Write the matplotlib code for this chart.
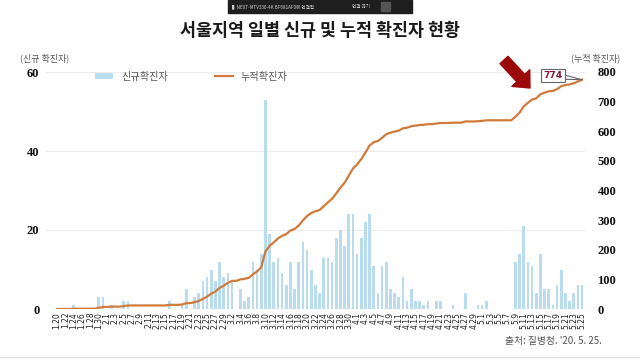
import numpy as np
import pandas as pd
import matplotlib
matplotlib.use("Agg")
import matplotlib.pyplot as plt
from matplotlib.patches import Patch, Rectangle
from matplotlib.lines import Line2D

plt.rcParams['font.family'] = ['Noto Sans CJK KR', 'DejaVu Sans']

# 날짜 (2020.1.20 ~ 5.25)
dates = pd.date_range("2020-01-20", "2020-05-25", freq="D")
date_labels = [f"{d.month}.{d.day}" for d in dates]

# 일별 신규 확진자
new_jan = [0, 0, 0, 0, 1, 0, 0, 0, 0, 0, 3, 3]
new_feb = [0, 1, 0, 0, 2, 2, 0, 0, 0, 0, 0, 0, 0, 0, 0,
           2, 0, 0, 1, 5, 0, 3, 4, 7, 8, 10, 7, 12, 8]
new_mar = [9, 7, 0, 5, 2, 3, 12, 10, 14, 53,
           19, 12, 13, 9, 6, 12, 5, 12, 17, 15,
           10, 6, 4, 13, 13, 12, 18, 20, 16, 24, 24]
new_apr = [14, 18, 22, 24, 11, 4, 11, 12, 5, 4,
           3, 8, 2, 5, 2, 2, 1, 2, 0, 2,
           2, 0, 0, 1, 0, 0, 4, 0, 0, 1]
new_may = [1, 2, 0, 0, 0, 0, 0, 0,
           12, 14, 21, 12, 11, 4, 14, 5, 5, 1, 6, 10, 4, 2, 4, 6, 6]

new_cases = np.array(new_jan + new_feb + new_mar + new_apr + new_may)
cum_cases = np.cumsum(new_cases)

left_ticks = [0, 20, 40, 60]
right_ticks = [0, 100, 200, 300, 400, 500, 600, 700, 800]

bar_color = '#b9dcef'
line_color = '#d27a3a'

fig = plt.figure(figsize=(6.4, 3.6), dpi=100)
fig.patch.set_facecolor('white')

ax = fig.add_axes([45/640, 1 - 309/360, 540/640, (309 - 72)/360])
x = np.arange(len(new_cases))
ax.bar(x, new_cases, width=0.62, color=bar_color, zorder=2)
ax.set_ylim(0, 60)
ax.set_xlim(-2.9, len(new_cases) - 0.3)
ax.set_yticks(left_ticks)
ax.set_yticklabels([str(t) for t in left_ticks], family='Liberation Serif',
                   fontweight='bold', fontsize=9, color='#111111')
ax.grid(axis='y', color='#ececec', linewidth=0.8, zorder=0)
ax.set_xticks(x[::2])
ax.set_xticklabels(date_labels[::2], rotation=90, fontsize=5.5, color='#222222',
                   family='DejaVu Sans')
ax.tick_params(length=0, pad=2)
ax.tick_params(axis='y', pad=4)
for s in ax.spines.values():
    s.set_visible(False)

ax2 = ax.twinx()
ax2.plot(x, cum_cases, color=line_color, linewidth=1.6, zorder=3)
ax2.set_ylim(0, 800)
ax2.set_yticks(right_ticks)
ax2.set_yticklabels([str(t) for t in right_ticks], family='Liberation Serif',
                    fontweight='bold', fontsize=9, color='#111111')
ax2.tick_params(length=0, pad=9)
for s in ax2.spines.values():
    s.set_visible(False)

# 774 말풍선
ax2.annotate(str(cum_cases[-1]), xy=(x[-1], cum_cases[-1]), xytext=(-21, 3),
             textcoords='offset points', ha='center', va='center',
             fontsize=6.5, fontweight='bold', color='#8c1538',
             family='DejaVu Sans',
             bbox=dict(boxstyle='square,pad=0.25', fc='white', ec='#666666', lw=0.8),
             arrowprops=dict(arrowstyle='wedge,tail_width=0.45', fc='white',
                             ec='#666666', lw=0.8, shrinkA=0, shrinkB=0),
             zorder=5)

# 빨간 화살표
ax2.annotate('', xy=(530, 360 - 88), xycoords='figure pixels',
             xytext=(504, 360 - 60), textcoords='figure pixels',
             arrowprops=dict(arrowstyle='simple,head_length=0.75,head_width=1.35,tail_width=0.6',
                             fc='#9b0a0a', ec='#9b0a0a', shrinkA=0, shrinkB=0,
                             mutation_scale=13),
             annotation_clip=False)

# 범례
handles = [Patch(facecolor=bar_color, edgecolor='none'),
           Line2D([0], [0], color=line_color, linewidth=1.6)]
ax.legend(handles, ['신규확진자', '누적확진자'], ncol=2, frameon=False,
          loc='upper left', bbox_to_anchor=(0.075, 1.04), fontsize=7.3,
          handlelength=1.8, handleheight=0.6, columnspacing=4.6, labelcolor='#555555')

# 제목 및 축 제목
fig.text(0.5, 1 - 31/360, '서울지역 일별 신규 및 누적 확진자 현황', ha='center', va='center',
         fontsize=12.5, fontweight='bold', color='#1a1a1a')
fig.text(20/640, 1 - 58/360, '(신규 확진자)', ha='left', va='center', fontsize=6.5,
         color='#555555')
fig.text(620/640, 1 - 58/360, '(누적 확진자)', ha='right', va='center', fontsize=6.5,
         color='#555555')
fig.text(602/640, 1 - 341/360, "출처: 질병청. '20. 5. 25.", ha='right', va='center',
         fontsize=7, color='#555555')

# 화면 상단 연결 표시줄
fig.patches.append(Rectangle((228/640, 1 - 13/360), 184/640, 13/360,
                             transform=fig.transFigure, color='#1e1e1e', zorder=10))
fig.text(232/640, 1 - 6.5/360, '▌NEXT-MTV330-4K BF681AF0에 연결됨', ha='left', va='center',
         fontsize=3.3, color='#d0d0d0', zorder=11)
fig.text(352/640, 1 - 6.5/360, '연결 끊기', ha='left', va='center',
         fontsize=3.3, color='#d0d0d0', zorder=11)
fig.patches.append(Rectangle((381/640, 1 - 11/360), 9/640, 9/360,
                             transform=fig.transFigure, color='#555555', zorder=11))

# 하단 회색 선
fig.add_artist(Line2D([0, 1], [1 - 357/360, 1 - 357/360], transform=fig.transFigure,
                      color='#e0e0e0', linewidth=1.0))

fig.savefig('out.png', dpi=100, facecolor='white')
